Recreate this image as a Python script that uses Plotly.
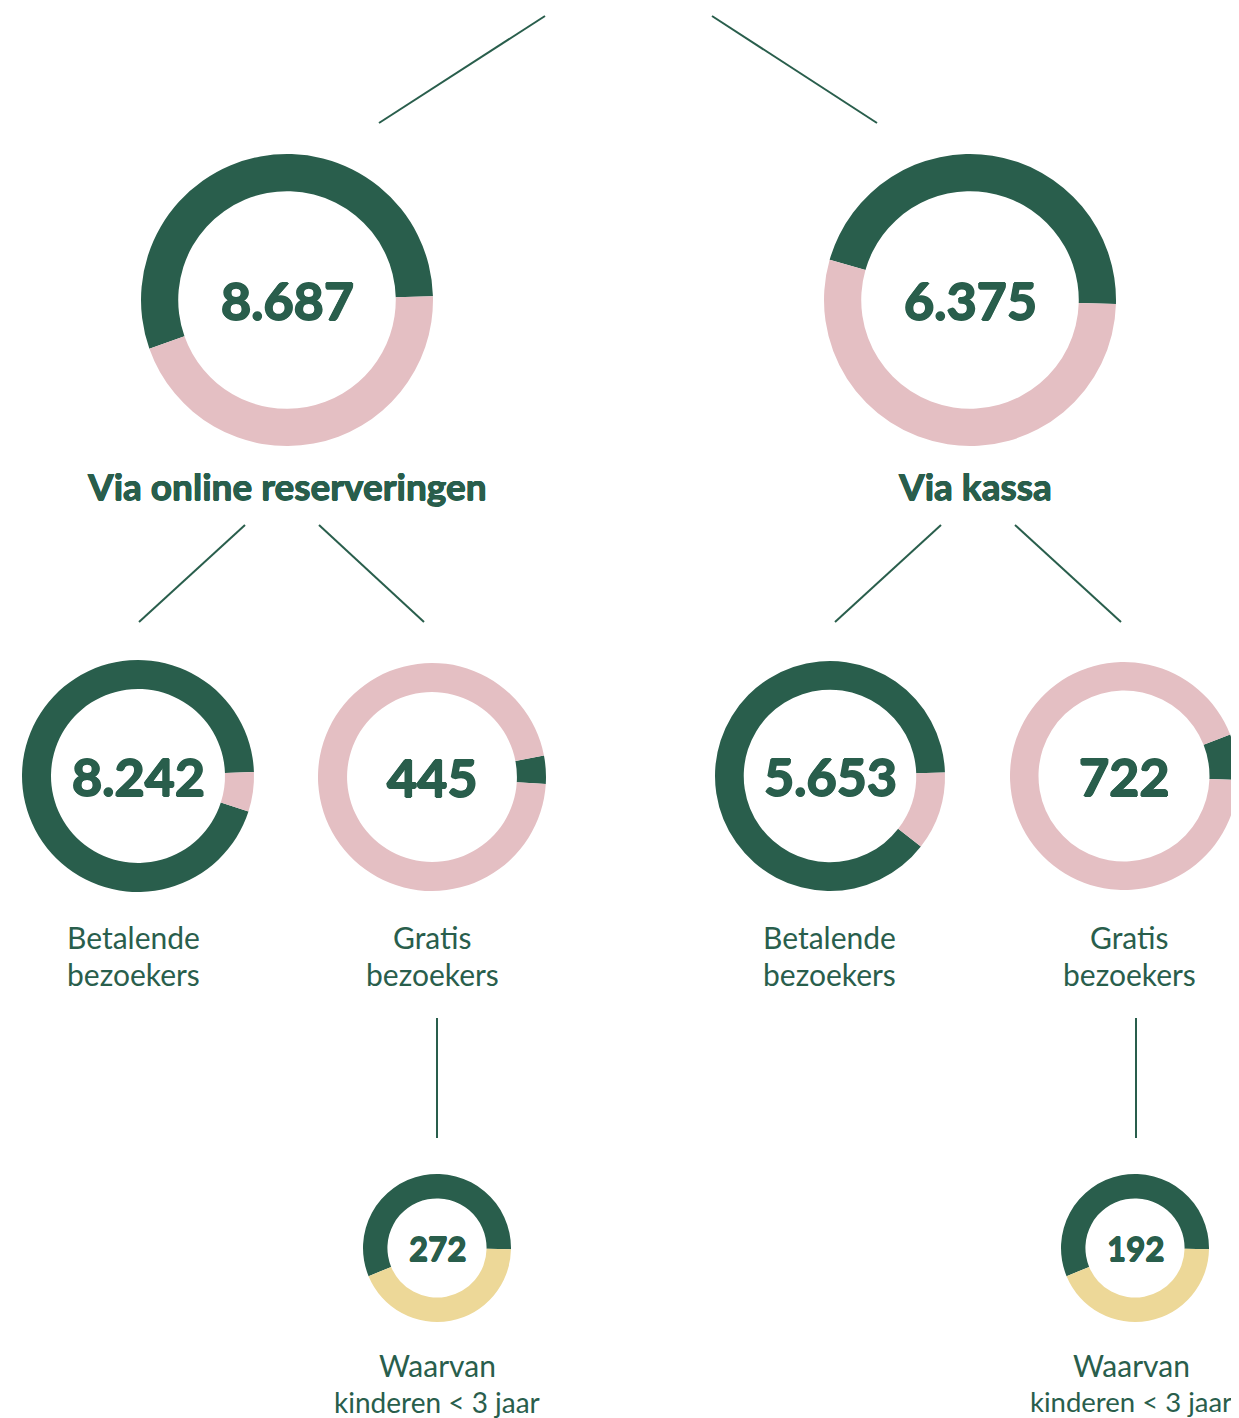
import plotly.graph_objects as go

# ---- data ----
node_values = [8687, 6375, 8242, 445, 5653, 722, 272, 192]
node_labels = [
    "Via online reserveringen",
    "Via kassa",
    "Betalende<br>bezoekers",
    "Gratis<br>bezoekers",
    "Betalende<br>bezoekers",
    "Gratis<br>bezoekers",
    "Waarvan<br>kinderen < 3 jaar",
    "Waarvan<br>kinderen < 3 jaar",
]
# share of the ring drawn in dark green (percent)
ring_share = [55, 46, 94.5, 4, 89, 6.5, 56.5, 56.5]

# ---- layout geometry (page pixels) ----
W, H = 1239, 1418
OFF = 8  # default body margin of the html page
GREEN = "#295e4c"
PINK = "#e4bfc3"
YELLOW = "#edd898"

centers = [(287, 300), (970, 300), (138, 776), (432, 777), (830, 776), (1124, 776), (437, 1248), (1135, 1248)]
radii = [146, 146, 116, 114, 115, 114, 74, 74]
holes = [0.745, 0.745, 0.75, 0.745, 0.75, 0.75, 0.67, 0.67]
ring_anchor = [88.5, 91.6, 88, 93.5, 88.2, 92, 91, 91]  # clockwise from 12 o'clock
second_colour = [PINK, PINK, PINK, PINK, PINK, PINK, YELLOW, YELLOW]
num_size = [52, 52, 52, 52, 52, 52, 33, 33]
label_pos = [(287, 485), (975, 485), (133, 955), (432, 955), (829, 955), (1129, 955), (437, 1383), (1131, 1383)]
label_sizes = [[37], [37], [30, 30], [30, 30], [30, 30], [30, 30], [30, 28], [30, 27.5]]
label_bold = [True, True, False, False, False, False, False, False]
LINE_GAP = 37

connectors = [
    ((545, 16), (379, 123)),
    ((712, 16), (877, 123)),
    ((245, 525), (139, 622)),
    ((319, 525), (424, 622)),
    ((941, 525), (835, 622)),
    ((1015, 525), (1121, 622)),
    ((437, 1018), (437, 1138)),
    ((1136, 1018), (1136, 1138)),
]


def fmt(v):
    return f"{v:,}".replace(",", ".")


def heavy(w):
    return ", ".join(f"{dx}px {dy}px 0 {GREEN}" for dx, dy in [(w, 0), (-w, 0), (0, w), (0, -w)])


def generate_tree():
    fig = go.Figure()
    fw, fh = W - OFF, H - OFF

    for i, v in enumerate(node_values):
        cx, cy = centers[i]
        r = radii[i]
        share = ring_share[i]
        span = share * 3.6
        fig.add_trace(
            go.Pie(
                values=[share, 100 - share],
                marker=dict(colors=[GREEN, second_colour[i]], line=dict(width=0)),
                hole=holes[i],
                sort=False,
                direction="clockwise",
                rotation=ring_anchor[i] - span,
                textinfo="none",
                hoverinfo="skip",
                showlegend=False,
                domain=dict(
                    x=[max(0, (cx - r - OFF) / fw), min(1, (cx + r - OFF) / fw)],
                    y=[max(0, (OFF + fh - cy - r) / fh), min(1, (OFF + fh - cy + r) / fh)],
                ),
            )
        )
        fig.add_annotation(
            x=cx, y=cy, text=fmt(v), showarrow=False,
            font=dict(family="Lato", size=num_size[i], color=GREEN, weight="bold",
                      shadow=heavy(0.9 if num_size[i] > 40 else 0.6)),
            xanchor="center", yanchor="middle",
        )
        lx, ly = label_pos[i]
        lines = node_labels[i].split("<br>")
        for k, line in enumerate(lines):
            fig.add_annotation(
                x=lx, y=ly + (k - (len(lines) - 1) / 2) * LINE_GAP, text=line, showarrow=False,
                font=dict(family="Lato", size=label_sizes[i][k], color=GREEN,
                          weight="bold" if label_bold[i] else "normal",
                          shadow=heavy(0.5) if label_bold[i] else "none"),
                xanchor="center", yanchor="middle",
            )

    for (x0, y0), (x1, y1) in connectors:
        fig.add_shape(type="line", x0=x0, y0=y0, x1=x1, y1=y1, xref="x", yref="y",
                      line=dict(color=GREEN, width=2))

    fig.update_xaxes(range=[OFF, W], visible=False, fixedrange=True)
    fig.update_yaxes(range=[OFF + fh, OFF], visible=False, fixedrange=True)
    fig.update_layout(
        width=fw, height=fh,
        margin=dict(l=0, r=0, t=0, b=0),
        paper_bgcolor="white", plot_bgcolor="white",
        dragmode=False,
    )
    return fig


if __name__ == "__main__":
    fig = generate_tree()
    fig.write_html("out.html", config={"displayModeBar": False})
